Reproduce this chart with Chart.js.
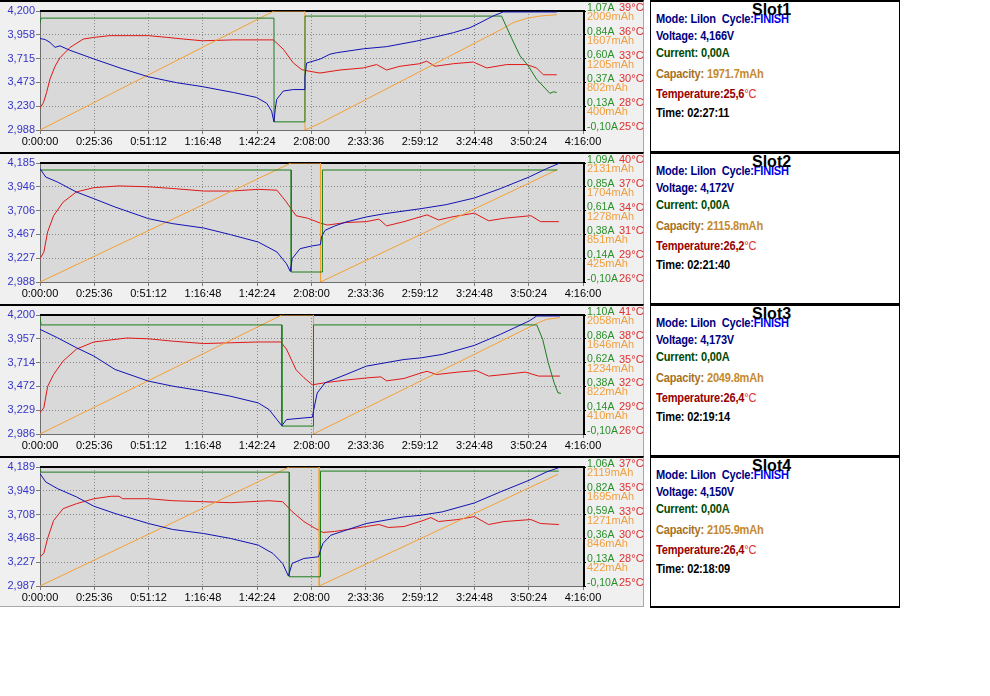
<!DOCTYPE html>
<html>
<head>
<meta charset="utf-8">
<title>Slot charge / discharge log</title>
<script src="https://cdn.jsdelivr.net/npm/chart.js@4.4.0/dist/chart.umd.min.js"></script>
<style>
  body { margin: 0; width: 990px; height: 696px; background: #fff; position: relative; overflow: hidden; }
  .panel { position: absolute; left: 0; width: 644px; height: 152px; box-sizing: border-box;
           background: #f0f0f0; border-top: 2px solid #000; border-right: 1px solid #a8a8a8; }
  .panel.last { height: 151px; border-bottom: 1px solid #a8a8a8; }
  canvas { position: absolute; left: 0; }
  .info { position: absolute; left: 650px; width: 250px; height: 152px; box-sizing: border-box;
          background: #fff; border: 1px solid #000; border-top: 2px solid #000; }
  .info.last { height: 152px; border-bottom: 2px solid #000; }
  .info div { position: absolute; left: 5px; white-space: nowrap; line-height: 14px;
              font-family: 'Liberation Sans', Arial, sans-serif; font-weight: bold; font-size: 12px;
              letter-spacing: -0.2px; transform: scaleX(0.92); transform-origin: 0 0; }
  .info .title { left: 101px; top: 0; font-size: 16px; line-height: 16px; color: #000;
                 letter-spacing: 0; transform: none; }
  .navy { color: #000080; }
  .blue { color: #0000f0; }
  .green { color: #004a00; }
  .brown { color: #a8701c; }
  .amber { color: #c68a2c; }
  .dred { color: #960000; }
  .deg { color: #e03030; font-weight: normal; }
</style>
</head>
<body>
<div id="panels"></div>
<script>
// time axis in minutes, 4:16:00 = 256 min
const xTickValues = [0, 25.6, 51.2, 76.8, 102.4, 128, 153.6, 179.2, 204.8, 230.4, 256];
const xTickLabels = ['0:00:00', '0:25:36', '0:51:12', '1:16:48', '1:42:24', '2:08:00',
                     '2:33:36', '2:59:12', '3:24:48', '3:50:24', '4:16:00'];

// axis tick labels per slot, top to bottom
const slot1VoltTicks = ['4,200', '3,958', '3,715', '3,473', '3,230', '2,988'];
const slot2VoltTicks = ['4,185', '3,946', '3,706', '3,467', '3,227', '2,988'];
const slot3VoltTicks = ['4,200', '3,957', '3,714', '3,472', '3,229', '2,986'];
const slot4VoltTicks = ['4,189', '3,949', '3,708', '3,468', '3,227', '2,987'];
const slot1AmpTicks = ['1,07A', '0,84A', '0,60A', '0,37A', '0,13A', '-0,10A'];
const slot2AmpTicks = ['1,09A', '0,85A', '0,61A', '0,38A', '0,14A', '-0,10A'];
const slot3AmpTicks = ['1,10A', '0,86A', '0,62A', '0,38A', '0,14A', '-0,10A'];
const slot4AmpTicks = ['1,06A', '0,82A', '0,59A', '0,36A', '0,13A', '-0,10A'];
const slot1CapTicks = ['2009mAh', '1607mAh', '1205mAh', '802mAh', '400mAh', ''];
const slot2CapTicks = ['2131mAh', '1704mAh', '1278mAh', '851mAh', '425mAh', ''];
const slot3CapTicks = ['2058mAh', '1646mAh', '1234mAh', '822mAh', '410mAh', ''];
const slot4CapTicks = ['2119mAh', '1695mAh', '1271mAh', '846mAh', '422mAh', ''];
const slot1TempTicks = ['39°C', '36°C', '33°C', '30°C', '28°C', '25°C'];
const slot2TempTicks = ['40°C', '37°C', '34°C', '31°C', '29°C', '26°C'];
const slot3TempTicks = ['41°C', '38°C', '35°C', '32°C', '29°C', '26°C'];
const slot4TempTicks = ['37°C', '35°C', '33°C', '30°C', '28°C', '25°C'];

// series, [minutes, value]
const slot1Volt = [[0,3.92],[2.4,3.91],[4.7,3.88],[7.1,3.83],[9.4,3.845],[14.1,3.80],[25.6,3.71],[37.7,3.62],
  [51.1,3.53],[64.4,3.47],[76.5,3.43],[91.2,3.37],[102,3.32],[106.9,3.26],[109.2,3.18],[110.3,3.07],[110.9,3.20],
  [111.6,3.30],[114.7,3.385],[119.4,3.40],[124.5,3.40],[124.9,3.53],[125.7,3.67],[132,3.71],[136.7,3.76],
  [139.9,3.775],[152.4,3.815],[163.4,3.837],[177.6,3.894],[187,3.939],[194.9,3.979],[202.7,4.03],[207.4,4.08],
  [213.7,4.15],[218.4,4.19],[243.6,4.19]];
const slot1Amp = [[0,0.95],[0.5,1.0],[110.3,1.0],[110.35,-0.02],[124.9,-0.02],[124.95,1.02],[217.6,1.02],
  [222.4,0.80],[226.3,0.63],[230.2,0.53],[234.1,0.40],[240.4,0.26],[242,0.275],[243.6,0.27]];
const slot1Cap = [[0,0],[110.3,2009],[124.9,2009],[124.95,0],[132,113],[216.9,1688],[223.1,1812],
  [229.4,1885],[235.7,1924],[243.6,1947]];
const slot1Temp = [[0,27.6],[1.6,28.2],[3.1,29.4],[4.7,31.0],[7.1,32.5],[9.4,33.5],[14.1,34.7],[20.4,35.7],
  [25.6,35.9],[33,36.1],[51.1,36.1],[59.7,35.9],[67.6,35.7],[76.5,35.5],[91.2,35.6],[110,35.6],[114.7,34.5],
  [119.4,32.9],[123.4,32.1],[127.3,31.9],[132,31.7],[141.4,32.06],[152.4,32.3],[158.7,32.7],[163.4,32.06],
  [169.7,32.5],[179.1,32.8],[182.3,33.1],[186.2,32.5],[194.9,32.8],[204.3,33.0],[210.6,32.3],[220,32.7],
  [229.4,32.7],[234.1,32.3],[237.3,31.5],[243.6,31.5]];

const slot2Volt = [[0,4.128],[2.7,4.044],[8.2,3.994],[17.2,3.893],[25.4,3.826],[35.4,3.742],[51.2,3.625],
  [62.6,3.575],[77.2,3.531],[89.9,3.464],[102.9,3.39],[111.7,3.29],[116.2,3.172],[118,3.095],[118.9,3.223],
  [122.6,3.323],[128,3.35],[132.2,3.364],[132.7,3.441],[134.4,3.508],[138.9,3.551],[144.3,3.592],[153.8,3.642],
  [162.5,3.675],[179.7,3.726],[191.5,3.766],[204.8,3.833],[217,3.927],[230.6,4.044],[238.8,4.128],[244.6,4.18]];
const slot2Amp = [[0,1.02],[118.4,1.02],[118.45,0.0],[133.1,0.0],[133.15,1.02],[243.8,1.02]];
const slot2Cap = [[0,0],[118.4,2131],[132.2,2131],[132.25,0],[244.2,2017]];
const slot2Temp = [[0,28.75],[1.8,29.5],[3.6,31.9],[6.4,33.8],[10.9,35.4],[17.2,36.6],[25.4,37.1],[37.2,37.3],
  [51.2,37.2],[62.6,37.0],[77.2,36.7],[89.9,36.7],[102.9,36.9],[111.7,36.8],[116.2,35.4],[120.7,33.8],
  [126.2,33.5],[132.5,32.9],[135.6,32.7],[144.3,33.0],[153.8,33.1],[159.8,33.4],[163.4,32.6],[171.6,33.1],
  [182.5,33.9],[187.9,33.3],[195.2,33.7],[204.8,34.1],[211.5,33.2],[218.8,33.5],[231.4,33.8],[236,33.1],
  [244.6,33.1]];

const slot3Volt = [[0,4.053],[2.7,4.026],[8.2,3.968],[17.2,3.866],[25.4,3.781],[35.4,3.644],[51.2,3.525],
  [62.6,3.474],[77.2,3.423],[89.9,3.371],[102.9,3.303],[108,3.235],[111.7,3.133],[114,3.071],[116.2,3.133],
  [124.4,3.15],[128.4,3.157],[128.9,3.218],[130.7,3.405],[134.4,3.508],[144.3,3.593],[153.8,3.678],
  [171.6,3.746],[179.7,3.763],[189.7,3.798],[204.8,3.89],[217,4.002],[230.6,4.139],[234.2,4.19],[245.1,4.19]];
const slot3Amp = [[0,1.08],[0.5,1.0],[114,1.0],[114.05,-0.02],[128.9,-0.02],[128.95,1.0],[234.2,1.0],
  [237,0.854],[239.6,0.62],[242.4,0.416],[244.2,0.315],[245.6,0.31]];
const slot3Cap = [[0,0],[114,2058],[128.9,2058],[128.95,0],[233.3,1896],[238.8,1983],[245.1,2012]];
const slot3Temp = [[0,28.7],[1.8,29.3],[3.6,32.0],[6.4,33.5],[10.9,35.2],[17.2,36.7],[25.4,37.6],[40.9,38.1],
  [51.2,38.0],[62.6,37.7],[77.2,37.4],[89.9,37.5],[102.9,37.6],[113.5,37.6],[116.2,36.7],[120.7,34.1],
  [124.4,33.1],[128.4,32.2],[135.3,32.5],[144.3,32.8],[155.2,33.1],[160.7,33.2],[163.4,32.7],[171.6,33.0],
  [179.7,33.7],[182.5,33.9],[187,33.5],[197,33.8],[205.7,34.0],[211.5,33.3],[218.8,33.5],[228.8,33.8],
  [235.1,33.3],[245.1,33.3]];

const slot4Volt = [[0,4.122],[2.7,4.038],[8.2,3.971],[17.2,3.887],[25.4,3.793],[35.4,3.719],[51.2,3.618],
  [62.6,3.558],[77.2,3.517],[89.9,3.467],[102.9,3.4],[109.8,3.316],[114.4,3.215],[117.1,3.088],[118.9,3.215],
  [124.4,3.265],[131.3,3.282],[132,3.333],[133.4,3.417],[137.1,3.5],[144.3,3.551],[153.8,3.618],[171.6,3.685],
  [179.7,3.702],[189.7,3.736],[204.8,3.826],[217,3.937],[230.6,4.055],[238.8,4.139],[244.6,4.182]];
const slot4Amp = [[0,1.04],[0.5,1.01],[117.5,1.01],[117.55,-0.01],[132.2,-0.01],[132.25,1.02],[244.6,1.02]];
const slot4Cap = [[0,0],[117.5,2119],[131.6,2119],[131.65,0],[244.2,1989]];
const slot4Temp = [[0,27.95],[1.8,28.3],[3.6,29.8],[6.4,31.6],[10.9,32.8],[17.2,33.3],[25.4,33.8],[33.6,34.05],
  [37.2,34.05],[39,33.8],[51.2,33.8],[62.6,33.6],[77.2,33.5],[89.9,33.4],[108,33.6],[114.4,33.5],[118.9,32.5],
  [124.4,31.5],[129.8,30.8],[133.4,30.4],[138.9,30.5],[153.8,31.0],[159.8,31.2],[164.3,30.9],[171.6,31.0],
  [180.6,31.6],[184.3,31.9],[187.9,31.5],[197,31.7],[204.8,32.0],[211.5,31.2],[218.8,31.5],[231.4,31.7],
  [236,31.3],[244.6,31.2]];

// status box texts
const slotNames = ['Slot1', 'Slot2', 'Slot3', 'Slot4'];
const slotVoltage = ['4,166V', '4,172V', '4,173V', '4,150V'];
const slotCurrent = ['0,00A', '0,00A', '0,00A', '0,00A'];
const slotCapacity = ['1971.7mAh', '2115.8mAh', '2049.8mAh', '2105.9mAh'];
const slotTemp = ['25,6', '26,2', '26,4', '26,4'];
const slotTime = ['02:27:11', '02:21:40', '02:19:14', '02:18:09'];

const voltSeries = [slot1Volt, slot2Volt, slot3Volt, slot4Volt];
const ampSeries = [slot1Amp, slot2Amp, slot3Amp, slot4Amp];
const capSeries = [slot1Cap, slot2Cap, slot3Cap, slot4Cap];
const tempSeries = [slot1Temp, slot2Temp, slot3Temp, slot4Temp];
const voltTicks = [slot1VoltTicks, slot2VoltTicks, slot3VoltTicks, slot4VoltTicks];
const ampTicks = [slot1AmpTicks, slot2AmpTicks, slot3AmpTicks, slot4AmpTicks];
const capTicks = [slot1CapTicks, slot2CapTicks, slot3CapTicks, slot4CapTicks];
const tempTicks = [slot1TempTicks, slot2TempTicks, slot3TempTicks, slot4TempTicks];

Chart.defaults.font.family = "'Liberation Sans', Arial, sans-serif";
Chart.defaults.font.size = 11;

// parse '4,200' / '-0,10A' / '39°C' / '2009mAh' into a number
function num(label) {
  return parseFloat(label.replace(',', '.'));
}

// six evenly spaced ticks between min and max
function sixTicks(scale) {
  scale.ticks = [];
  for (let i = 0; i <= 5; i++) {
    scale.ticks.push({ value: scale.min + (scale.max - scale.min) * i / 5 });
  }
}

// grey plot area with black top/right frame
const plotFrame = {
  id: 'plotFrame',
  afterLayout(chart) {
    // current and capacity labels share one column, let them spill over
    const a = chart.scales.a, c = chart.scales.c;
    a.right = a.left + 40;
    c.right = c.left + 60;
  },
  beforeDraw(chart) {
    const { ctx, chartArea: a } = chart;
    ctx.save();
    ctx.fillStyle = '#d9d9d9';
    ctx.fillRect(a.left, a.top, a.right - a.left, a.bottom - a.top);
    ctx.restore();
  },
  beforeDatasetsDraw(chart) {
    const { ctx, chartArea: a } = chart;
    ctx.save();
    ctx.strokeStyle = '#6e6e6e';
    ctx.lineWidth = 1;
    ctx.beginPath();
    ctx.moveTo(a.left + 0.5, a.top);
    ctx.lineTo(a.left + 0.5, a.bottom + 0.5);
    ctx.lineTo(a.right, a.bottom + 0.5);
    ctx.stroke();
    ctx.strokeStyle = '#000';
    ctx.lineWidth = 2;
    ctx.beginPath();
    ctx.moveTo(a.left, a.top);
    ctx.lineTo(a.right + 1, a.top);
    ctx.lineTo(a.right + 1, a.bottom + 1);
    ctx.stroke();
    ctx.restore();
  }
};

function line(points, color, axis) {
  return {
    data: points.map(p => ({ x: p[0], y: p[1] })),
    borderColor: color,
    borderWidth: 1,
    pointRadius: 0,
    tension: 0,
    fill: false,
    yAxisID: axis
  };
}

const container = document.getElementById('panels');

for (let i = 0; i < 4; i++) {
  const top = 152 * i;
  const last = i === 3 ? ' last' : '';

  // background panel
  const panel = document.createElement('div');
  panel.className = 'panel' + last;
  panel.style.top = top + 'px';
  container.appendChild(panel);

  const canvas = document.createElement('canvas');
  canvas.width = 644;
  canvas.height = 152;
  canvas.style.top = top + 'px';
  container.appendChild(canvas);

  // status box
  const info = document.createElement('div');
  info.className = 'info' + last;
  info.style.top = top + 'px';
  info.innerHTML =
    '<div style="top:10px"><span class="navy">Mode: LiIon&nbsp; Cycle:</span><span class="blue">FINISH</span></div>' +
    '<div style="top:27px" class="navy">Voltage: ' + slotVoltage[i] + '</div>' +
    '<div style="top:44px" class="green">Current: ' + slotCurrent[i] + '</div>' +
    '<div style="top:65px"><span class="brown">Capacity: </span><span class="amber">' + slotCapacity[i] + '</span></div>' +
    '<div style="top:85px"><span class="dred">Temperature:' + slotTemp[i] + '</span><span class="deg">°C</span></div>' +
    '<div style="top:104px;color:#000">Time: ' + slotTime[i] + '</div>' +
    '<div class="title">' + slotNames[i] + '</div>';
  container.appendChild(info);

  const vt = voltTicks[i], at = ampTicks[i], ct = capTicks[i], tt = tempTicks[i];

  new Chart(canvas, {
    type: 'line',
    data: {
      datasets: [
        line(voltSeries[i], '#1212b4', 'v'),
        line(ampSeries[i], '#1d7d1d', 'a'),
        line(capSeries[i], '#f5a033', 'c'),
        line(tempSeries[i], '#e01818', 't')
      ]
    },
    plugins: [plotFrame],
    options: {
      responsive: false,
      animation: false,
      layout: { padding: { top: 11, bottom: 2, left: 0, right: 0 } },
      plugins: { legend: { display: false }, tooltip: { enabled: false } },
      scales: {
        x: {
          type: 'linear', min: 0, max: 256,
          afterBuildTicks: sc => { sc.ticks = xTickValues.map(v => ({ value: v })); },
          afterFit: sc => { sc.height = 20; },
          ticks: { autoSkip: false, maxRotation: 0, color: '#000', padding: 1,
                   callback: (v, k) => xTickLabels[k] },
          grid: { color: '#8a8a8a', tickLength: 4, tickColor: '#7a7a7a' },
          border: { display: false, dash: [1, 2] }
        },
        v: {
          position: 'left', min: num(vt[5]), max: num(vt[0]),
          afterBuildTicks: sixTicks,
          afterFit: sc => { sc.width = 40; },
          ticks: { color: '#3434c8', padding: 1, callback: (v, k) => vt[5 - k] },
          grid: { color: '#8a8a8a', tickLength: 4, tickColor: '#7a7a7a' },
          border: { display: false, dash: [1, 2] }
        },
        a: {
          position: 'right', weight: 0, min: num(at[5]), max: num(at[0]),
          afterBuildTicks: sixTicks,
          afterFit: sc => { sc.width = 0; },
          ticks: { color: '#2b8f2b', padding: 1, labelOffset: -3, font: { size: 10.5 },
                   callback: (v, k) => at[5 - k] },
          grid: { drawOnChartArea: false, tickLength: 3, tickColor: '#000' },
          border: { display: false }
        },
        c: {
          position: 'right', weight: 1, min: 0, max: num(ct[0]),
          afterBuildTicks: sixTicks,
          afterFit: sc => { sc.width = 36; },
          ticks: { color: '#f0a040', padding: 4, labelOffset: 6, callback: (v, k) => ct[5 - k] },
          grid: { display: false, drawTicks: false },
          border: { display: false }
        },
        t: {
          position: 'right', weight: 2, min: num(tt[5]), max: num(tt[0]),
          afterBuildTicks: sixTicks,
          afterFit: sc => { sc.width = 25; },
          ticks: { color: '#e03030', padding: 0, labelOffset: -3, callback: (v, k) => tt[5 - k] },
          grid: { display: false, drawTicks: false },
          border: { display: false }
        }
      }
    }
  });
}
</script>
</body>
</html>
